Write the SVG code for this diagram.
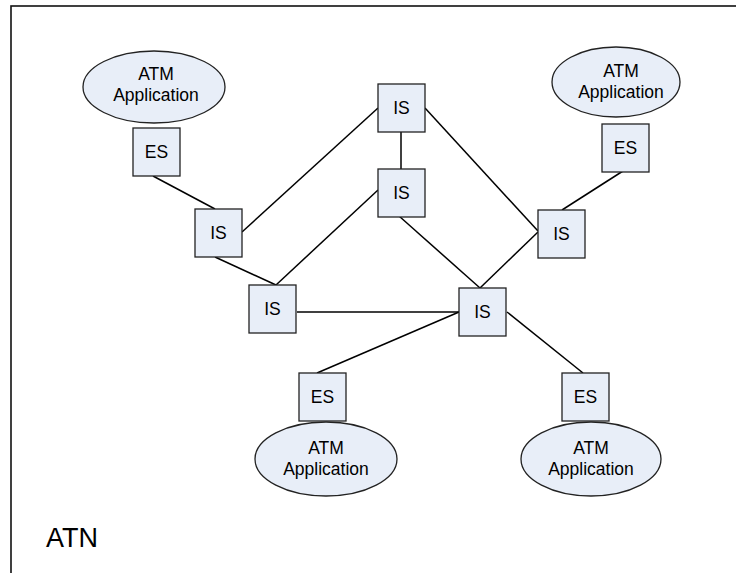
<svg xmlns="http://www.w3.org/2000/svg" width="736" height="573" viewBox="0 0 736 573">
  <style>
    .box { fill: #e8eef8; stroke: #222; stroke-width: 1.3; }
    .app { fill: #e8eef8; stroke: #222; stroke-width: 1.3; }
    .lbl { font-family: "Liberation Sans", Arial, sans-serif; font-size: 17.5px; fill: #000; text-anchor: middle; }
    .link { stroke: #000; stroke-width: 1.5; fill: none; }
  </style>
  <rect x="0" y="0" width="736" height="573" fill="#fff"/>
  <!-- frame -->
  <rect x="11" y="6" width="740" height="580" fill="none" stroke="#111" stroke-width="1.6"/>

  <g id="connectors">
    <line class="link" x1="153" y1="176" x2="215" y2="209"/>
    <line class="link" x1="242" y1="232" x2="378" y2="108"/>
    <line class="link" x1="215" y1="257" x2="276" y2="285"/>
    <line class="link" x1="276" y1="285" x2="378" y2="190"/>
    <line class="link" x1="401" y1="132" x2="401" y2="169"/>
    <line class="link" x1="425" y1="108" x2="538" y2="231"/>
    <line class="link" x1="399" y1="216" x2="480" y2="288"/>
    <line class="link" x1="538" y1="232" x2="480" y2="288"/>
    <line class="link" x1="623" y1="171" x2="562" y2="210"/>
    <line class="link" x1="297" y1="312" x2="459" y2="312"/>
    <line class="link" x1="459" y1="312" x2="317" y2="373"/>
    <line class="link" x1="507" y1="312" x2="583" y2="373"/>
  </g>

  <g id="app-top-left">
    <ellipse class="app" cx="154" cy="87" rx="71" ry="36"/>
    <text class="lbl" x="156" y="80">ATM</text>
    <text class="lbl" x="156" y="101">Application</text>
  </g>
  <g id="app-top-right">
    <ellipse class="app" cx="616" cy="82" rx="64" ry="35"/>
    <text class="lbl" x="621" y="77">ATM</text>
    <text class="lbl" x="621" y="98">Application</text>
  </g>
  <g id="app-bottom-left">
    <ellipse class="app" cx="326" cy="459" rx="71" ry="37"/>
    <text class="lbl" x="326" y="454">ATM</text>
    <text class="lbl" x="326" y="475">Application</text>
  </g>
  <g id="app-bottom-right">
    <ellipse class="app" cx="591" cy="459" rx="70" ry="37"/>
    <text class="lbl" x="591" y="454">ATM</text>
    <text class="lbl" x="591" y="475">Application</text>
  </g>

  <g id="es-top-left">
    <rect class="box" x="133" y="128" width="47" height="48"/>
    <text class="lbl" x="156.5" y="158">ES</text>
  </g>
  <g id="es-top-right">
    <rect class="box" x="602" y="124" width="47" height="48"/>
    <text class="lbl" x="625.5" y="154">ES</text>
  </g>
  <g id="es-bottom-left">
    <rect class="box" x="299" y="373" width="47" height="48"/>
    <text class="lbl" x="322.5" y="403">ES</text>
  </g>
  <g id="es-bottom-right">
    <rect class="box" x="562" y="373" width="47" height="48"/>
    <text class="lbl" x="585.5" y="403">ES</text>
  </g>

  <g id="is-left">
    <rect class="box" x="195" y="209" width="47" height="48"/>
    <text class="lbl" x="218.5" y="239">IS</text>
  </g>
  <g id="is-top">
    <rect class="box" x="378" y="84" width="47" height="48"/>
    <text class="lbl" x="401.5" y="114">IS</text>
  </g>
  <g id="is-middle">
    <rect class="box" x="378" y="169" width="47" height="48"/>
    <text class="lbl" x="401.5" y="199">IS</text>
  </g>
  <g id="is-right">
    <rect class="box" x="538" y="210" width="47" height="48"/>
    <text class="lbl" x="561.5" y="240">IS</text>
  </g>
  <g id="is-lower-left">
    <rect class="box" x="249" y="285" width="47" height="48"/>
    <text class="lbl" x="272.5" y="315">IS</text>
  </g>
  <g id="is-hub">
    <rect class="box" x="459" y="288" width="47" height="48"/>
    <text class="lbl" x="482.5" y="318">IS</text>
  </g>

  <text x="46" y="547" font-family="Liberation Sans, Arial, sans-serif" font-size="27" fill="#000">ATN</text>
</svg>
